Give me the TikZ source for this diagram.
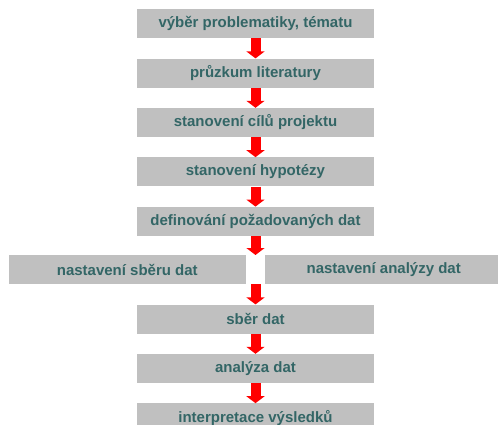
\documentclass[tikz,border=0pt]{standalone}
\usepackage{fontspec}
\setmainfont{Liberation Sans}
\usepackage{xcolor}
\usetikzlibrary{positioning,arrows.meta}

\definecolor{boxgray}{RGB}{192,192,192}
\definecolor{boxtext}{RGB}{51,102,102}

\begin{document}
\begin{tikzpicture}[
    x=1pt, y=1pt,
    node distance=20pt,
    box/.style={fill=boxgray, minimum width=237pt, minimum height=29pt,
                inner sep=0pt, align=center, text=boxtext,
                font=\fontsize{15}{17}\selectfont\bfseries},
    arr/.style={-{Triangle[width=18pt,length=7pt]}, red, line width=10pt},
  ]
  \useasboundingbox (0,0) rectangle (498,-425);
  % main steps
  \node[box, anchor=north] (vyber) at (255.5,-9) {výběr problematiky, tématu};
  \node[box, below=of vyber] (pruzkum) {průzkum literatury};
  \node[box, below=of pruzkum] (cile) {stanovení cílů projektu};
  \node[box, below=of cile] (hypo) {stanovení hypotézy};
  \node[box, below=of hypo] (def) {definování požadovaných dat};
  % split
  \node[box, below=19pt of def, anchor=north east, xshift=-9.5pt] (nsber) {nastavení sběru dat};
  \node[box, below=19pt of def, anchor=north west, xshift=9.5pt] (nanal) {nastavení analýzy dat};
  % rest
  \node[box, below=20pt of def |- nsber.south, anchor=north] (sber) {sběr dat};
  \node[box, below=of sber] (anal) {analýza dat};
  \node[box, below=of anal] (interp) {interpretace výsledků};

  \draw[arr] (vyber.south)   -- (pruzkum.north);
  \draw[arr] (pruzkum.south) -- (cile.north);
  \draw[arr] (cile.south)    -- (hypo.north);
  \draw[arr] (hypo.south)    -- (def.north);
  \draw[arr] (def.south)     -- (def.south |- nsber.north);
  \draw[arr] (def.south |- nsber.south) -- (sber.north);
  \draw[arr] (sber.south)    -- (anal.north);
  \draw[arr] (anal.south)    -- (interp.north);
\end{tikzpicture}
\end{document}
